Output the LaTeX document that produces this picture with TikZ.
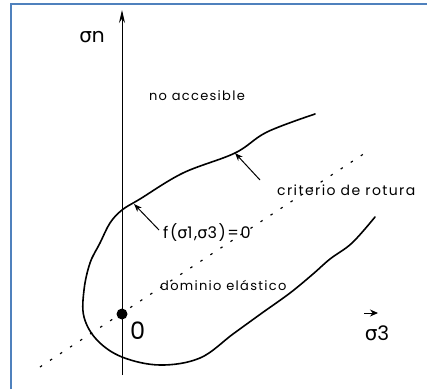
\documentclass[tikz,border=0pt]{standalone}
\usepackage{fontspec}
\setmainfont{Poppins}[LetterSpace=10]
\newfontfamily\gk{DejaVu Sans}
\usetikzlibrary{arrows.meta}
\definecolor{frameblue}{RGB}{79,129,189}
\begin{document}
\begin{tikzpicture}[x=1pt,y=-1pt,
  lbl/.style={inner sep=0pt, font=\fontsize{13}{15}\selectfont},
  ptr/.style={line width=1pt, -{Stealth[length=8pt,width=6pt]}},
  curve/.style={line width=1.6pt, line join=round, line cap=round}]
\useasboundingbox (0,0) rectangle (427,389);
\draw[frameblue, line width=2.2pt] (11,389) -- (11,4) -- (427,4);
% axes
\coordinate (ybot) at (122,375);
\coordinate (ytop) at (122,10);
\draw[line width=1pt, -{Stealth[length=13pt,width=6pt]}] (ybot) -- (ytop);
% dashed line
\coordinate (dA) at (40,367);
\coordinate (dB) at (365,153);
\draw[line width=1.2pt, dash pattern=on 2.5pt off 9.5pt] (dA) -- (dB);
% yield curve
\draw[curve] plot[smooth, tension=0.6] coordinates {(315,114) (267,132) (235,153) (183,173) (140,199) (122,210) (110,223) (100,243) (90,263) (84,290) (84,317) (97,340) (122,357) (160,365) (200,358) (233,334) (262,313) (290,293) (313,274) (330,259) (352,243) (375,217)};
% origin
\node[circle, fill, inner sep=0pt, minimum size=11pt] (o) at (122,314) {};
\node[lbl, font=\fontsize{24}{26}\selectfont, anchor=west] (zero) at (130,331) {0};
% labels
\node[lbl, font=\fontsize{20}{22}\selectfont] (sn) at (92,37) {{\gk σ}n};
\node[lbl] (na) at (197,96) {no accesible};
\node[lbl, font=\fontsize{14}{16}\selectfont, anchor=west] (cr) at (277,190) {criterio de rotura};
\node[lbl, font=\fontsize{16}{18}\selectfont, anchor=west] (f) at (163,233) {f({\gk σ}1,{\gk σ}3)=0};
\node[lbl, anchor=west] (de) at (160,285) {dominio elástico};
\node[lbl, font=\fontsize{20}{22}\selectfont] (s3) at (377,333) {{\gk σ}3};
% pointers
\coordinate (cA) at (235,153);
\coordinate (cAt) at (260,180);
\coordinate (fA) at (134,204);
\coordinate (fAt) at (159,230);
\draw[ptr] (cAt) -- (cA);
\draw[ptr] (fAt) -- (fA);
\coordinate (s3a) at (364,313);
\coordinate (s3b) at (378,313);
\draw[line width=1pt, -{Stealth[length=8pt,width=7pt]}] (s3a) -- (s3b);
\end{tikzpicture}
\end{document}
